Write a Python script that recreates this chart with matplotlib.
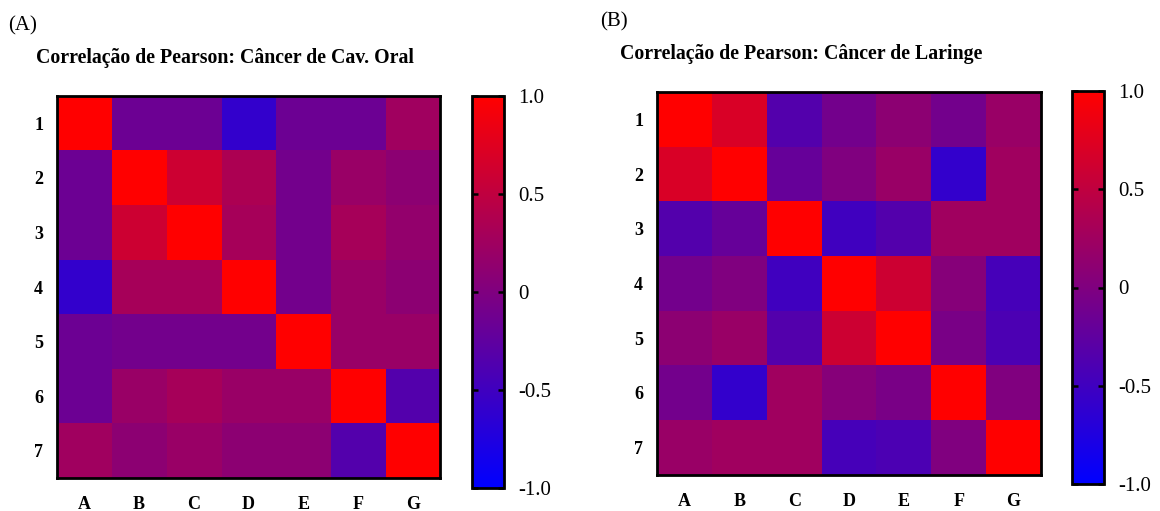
import matplotlib.pyplot as plt
from matplotlib.colors import LinearSegmentedColormap

rows = ['1', '2', '3', '4', '5', '6', '7']
cols = ['A', 'B', 'C', 'D', 'E', 'F', 'G']

corr_oral = [
    [1.00, -0.15, -0.15, -0.60, -0.15, -0.15, 0.25],
    [-0.15, 1.00, 0.60, 0.35, -0.10, 0.20, 0.10],
    [-0.15, 0.60, 1.00, 0.30, -0.10, 0.30, 0.15],
    [-0.60, 0.30, 0.30, 1.00, -0.10, 0.20, 0.10],
    [-0.15, -0.10, -0.10, -0.10, 1.00, 0.20, 0.20],
    [-0.15, 0.20, 0.30, 0.20, 0.20, 1.00, -0.35],
    [0.25, 0.10, 0.20, 0.10, 0.10, -0.35, 1.00],
]

corr_laringe = [
    [1.00, 0.70, -0.35, -0.10, 0.10, -0.10, 0.20],
    [0.70, 1.00, -0.20, 0.00, 0.20, -0.60, 0.25],
    [-0.35, -0.20, 1.00, -0.50, -0.35, 0.25, 0.25],
    [-0.10, 0.00, -0.50, 1.00, 0.60, 0.05, -0.45],
    [0.10, 0.20, -0.35, 0.60, 1.00, -0.05, -0.40],
    [-0.10, -0.60, 0.25, 0.05, -0.05, 1.00, 0.00],
    [0.20, 0.25, 0.25, -0.45, -0.40, 0.00, 1.00],
]

cbar_ticks = [-1.0, -0.5, 0.0, 0.5, 1.0]
cbar_labels = ['-1.0', '-0.5', '0', '0.5', '1.0']

plt.rcParams['font.family'] = ['Liberation Serif', 'DejaVu Serif']

W, H = 1160, 511
cmap = LinearSegmentedColormap.from_list('azul_vermelho', ['#0000ff', '#ff0000'])


def box(x0, y0, x1, y1):
    # pixel box (top-left origin) -> figure fraction rect
    return [x0 / W, 1 - y1 / H, (x1 - x0) / W, (y1 - y0) / H]


def heatmap(fig, data, hm, cb, title, title_xy, tag, tag_xy):
    ax = fig.add_axes(box(*hm))
    im = ax.imshow(data, cmap=cmap, vmin=-1, vmax=1, aspect='auto',
                   interpolation='nearest')
    ax.set_xticks(range(len(cols)))
    ax.set_xticklabels(cols, fontsize=13, fontweight='bold')
    ax.set_yticks(range(len(rows)))
    ax.set_yticklabels(rows, fontsize=13, fontweight='bold')
    ax.tick_params(length=0)
    ax.tick_params(axis='y', pad=10)
    ax.tick_params(axis='x', pad=13)
    for s in ax.spines.values():
        s.set_linewidth(2)

    cax = fig.add_axes(box(*cb))
    cbar = fig.colorbar(im, cax=cax, ticks=cbar_ticks)
    cbar.ax.set_yticklabels(cbar_labels)
    cax.tick_params(direction='in', left=True, right=True, length=4, width=1.8,
                    labelsize=15, pad=10)
    cbar.outline.set_linewidth(2)

    fig.text(title_xy[0] / W, 1 - title_xy[1] / H, title, fontsize=14.3,
             fontweight='bold', va='center', ha='left')
    fig.text(tag_xy[0] / W, 1 - tag_xy[1] / H, tag, fontsize=15,
             va='center', ha='left')


fig = plt.figure(figsize=(W / 100, H / 100), dpi=100)

heatmap(fig, corr_oral, (57, 96, 440, 478), (472, 96, 504, 488),
        'Correlação de Pearson: Câncer de Cav. Oral', (36, 58), '(A)', (8, 26))
heatmap(fig, corr_laringe, (657, 92, 1041, 475), (1072, 91, 1104, 484),
        'Correlação de Pearson: Câncer de Laringe', (620, 54), '(B)', (600, 22))

fig.savefig('out.png', dpi=100)
